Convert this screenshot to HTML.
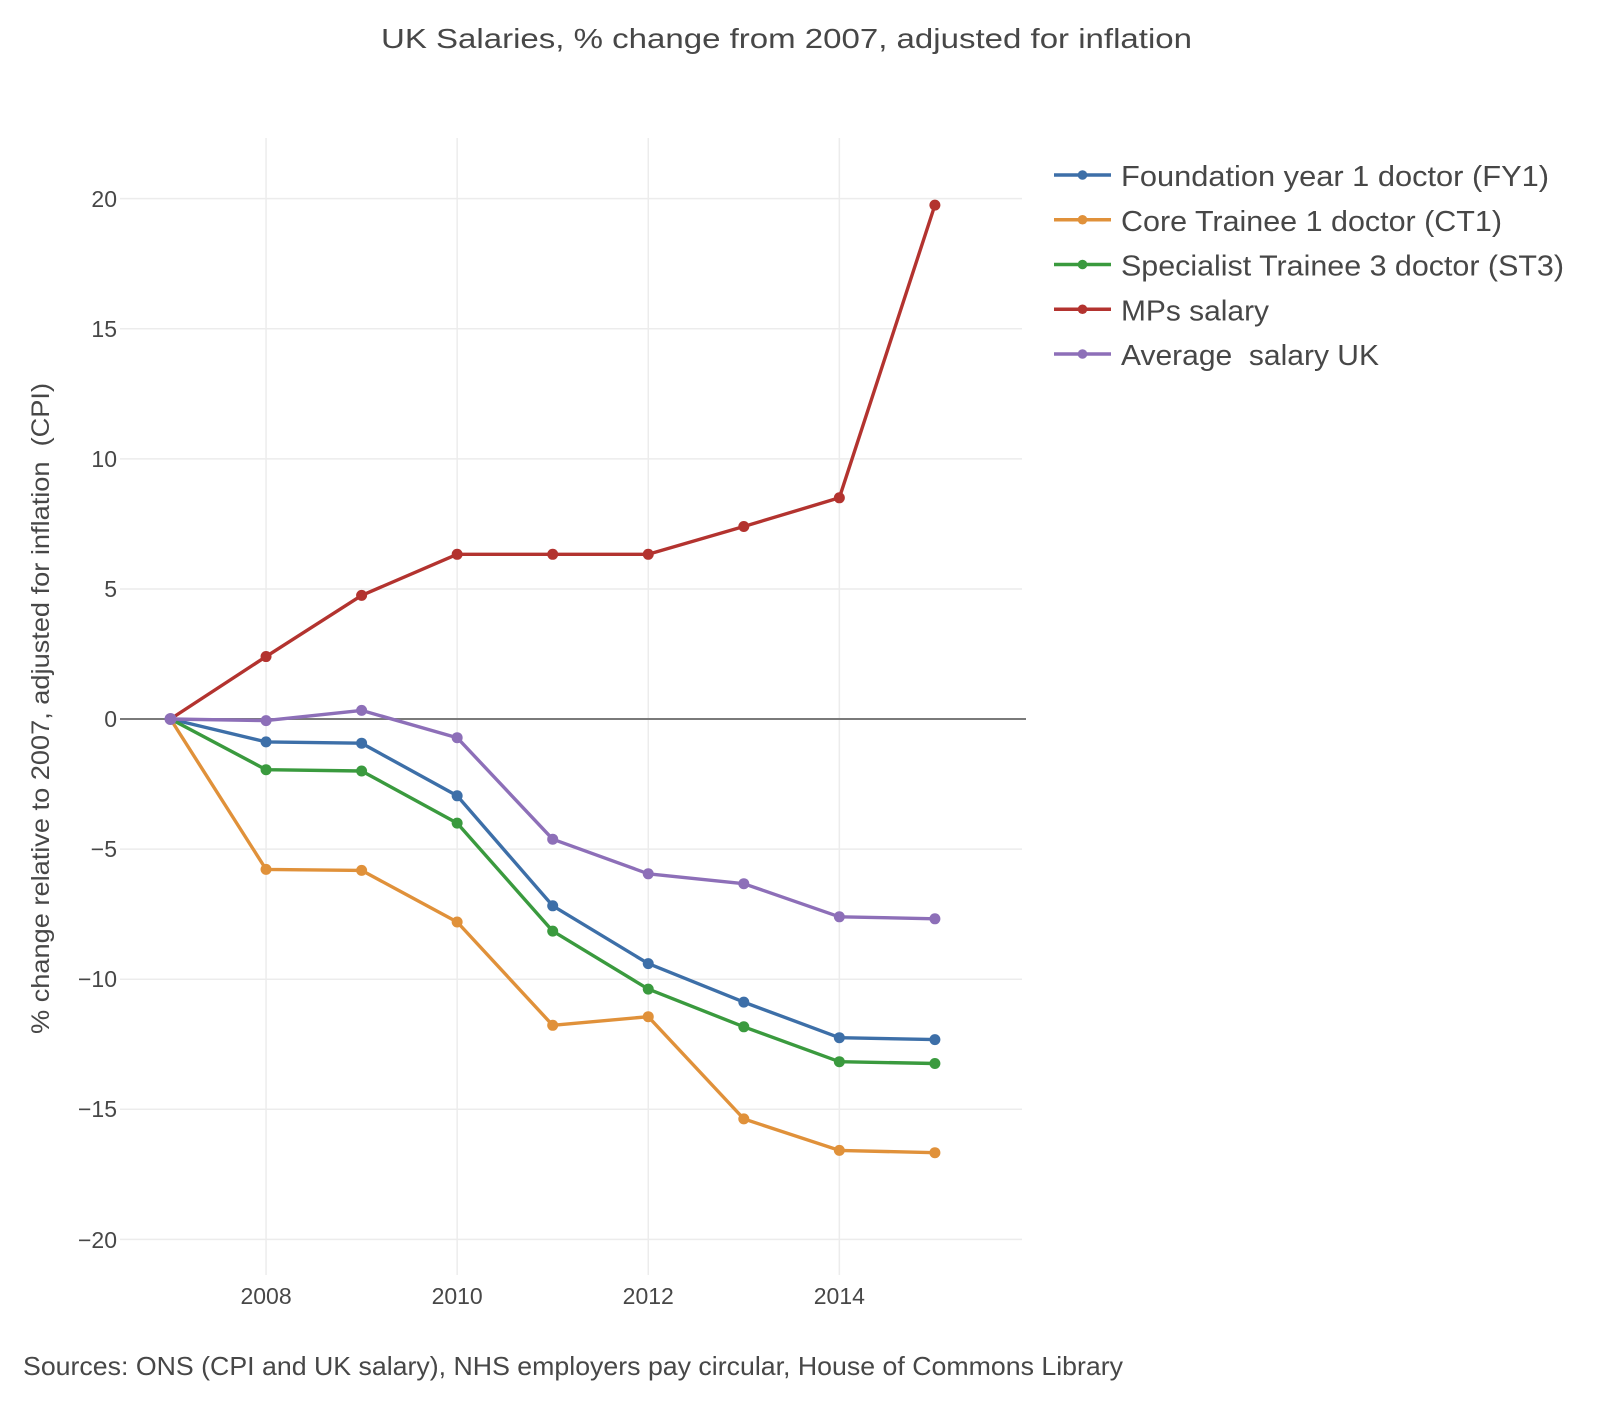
<!DOCTYPE html>
<html>
<head>
<meta charset="utf-8">
<style>
  html, body { margin: 0; padding: 0; background: #fff; }
  svg { display: block; }
  text { font-family: "Liberation Sans", "DejaVu Sans", sans-serif; fill: #474747; }
</style>
</head>
<body>
<svg width="1600" height="1404" viewBox="0 0 1600 1404" xmlns="http://www.w3.org/2000/svg">
  <rect x="0" y="0" width="1600" height="1404" fill="#ffffff"/>

  <!-- Title -->
  <text x="381" y="48" font-size="28" textLength="811" lengthAdjust="spacingAndGlyphs">UK Salaries, % change from 2007, adjusted for inflation</text>

  <!-- Vertical gridlines -->
  <g stroke="#ececec" stroke-width="1.5">
    <line x1="266.05" y1="138" x2="266.05" y2="1275"/>
    <line x1="457.15" y1="138" x2="457.15" y2="1275"/>
    <line x1="648.25" y1="138" x2="648.25" y2="1275"/>
    <line x1="839.35" y1="138" x2="839.35" y2="1275"/>
  </g>

  <!-- Horizontal gridlines -->
  <g stroke="#ececec" stroke-width="1.5">
    <line x1="120" y1="198.6" x2="1022" y2="198.6"/>
    <line x1="120" y1="328.7" x2="1022" y2="328.7"/>
    <line x1="120" y1="458.9" x2="1022" y2="458.9"/>
    <line x1="120" y1="589" x2="1022" y2="589"/>
    <line x1="120" y1="849.1" x2="1022" y2="849.1"/>
    <line x1="120" y1="979.2" x2="1022" y2="979.2"/>
    <line x1="120" y1="1109.3" x2="1022" y2="1109.3"/>
    <line x1="120" y1="1239.4" x2="1022" y2="1239.4"/>
  </g>
  <!-- Zero line -->
  <line x1="120" y1="719" x2="1026" y2="719" stroke="#7a7a7a" stroke-width="2"/>

  <!-- Y tick labels -->
  <g font-size="23" text-anchor="end">
    <text x="117" y="207">20</text>
    <text x="117" y="337">15</text>
    <text x="117" y="467">10</text>
    <text x="117" y="597">5</text>
    <text x="117" y="727">0</text>
    <text x="117" y="857">−5</text>
    <text x="117" y="987">−10</text>
    <text x="117" y="1117">−15</text>
    <text x="117" y="1248">−20</text>
  </g>

  <!-- X tick labels -->
  <g font-size="23" text-anchor="middle">
    <text x="266.05" y="1304">2008</text>
    <text x="457.15" y="1304">2010</text>
    <text x="648.25" y="1304">2012</text>
    <text x="839.35" y="1304">2014</text>
  </g>

  <!-- Y axis title -->
  <text transform="translate(49,1034) rotate(-90)" x="0" y="0" font-size="25" textLength="651" lengthAdjust="spacingAndGlyphs" xml:space="preserve">% change relative to 2007, adjusted for inflation  (CPI)</text>

  <!-- Series: FY1 (blue) -->
  <polyline fill="none" stroke-width="3.4" stroke-linejoin="round" stroke="#3d6fa8" points="170.5,719 266.05,741.9 361.6,743.2 457.15,795.8 552.7,905.8 648.25,963.6 743.8,1002.1 839.35,1037.7 934.9,1039.6"/>
  <g fill="#3d6fa8">
    <circle cx="170.5" cy="719" r="5.5"/><circle cx="266.05" cy="741.9" r="5.5"/><circle cx="361.6" cy="743.2" r="5.5"/><circle cx="457.15" cy="795.8" r="5.5"/><circle cx="552.7" cy="905.8" r="5.5"/><circle cx="648.25" cy="963.6" r="5.5"/><circle cx="743.8" cy="1002.1" r="5.5"/><circle cx="839.35" cy="1037.7" r="5.5"/><circle cx="934.9" cy="1039.6" r="5.5"/>
  </g>

  <!-- Series: CT1 (orange) -->
  <polyline fill="none" stroke-width="3.4" stroke-linejoin="round" stroke="#e0913a" points="170.5,719 266.05,869.4 361.6,870.4 457.15,922 552.7,1025.3 648.25,1016.7 743.8,1118.9 839.35,1150.4 934.9,1152.7"/>
  <g fill="#e0913a">
    <circle cx="170.5" cy="719" r="5.5"/><circle cx="266.05" cy="869.4" r="5.5"/><circle cx="361.6" cy="870.4" r="5.5"/><circle cx="457.15" cy="922" r="5.5"/><circle cx="552.7" cy="1025.3" r="5.5"/><circle cx="648.25" cy="1016.7" r="5.5"/><circle cx="743.8" cy="1118.9" r="5.5"/><circle cx="839.35" cy="1150.4" r="5.5"/><circle cx="934.9" cy="1152.7" r="5.5"/>
  </g>

  <!-- Series: ST3 (green) -->
  <polyline fill="none" stroke-width="3.4" stroke-linejoin="round" stroke="#3a9a3e" points="170.5,719 266.05,769.7 361.6,771 457.15,823.1 552.7,931.1 648.25,989.1 743.8,1026.8 839.35,1061.7 934.9,1063.5"/>
  <g fill="#3a9a3e">
    <circle cx="170.5" cy="719" r="5.5"/><circle cx="266.05" cy="769.7" r="5.5"/><circle cx="361.6" cy="771" r="5.5"/><circle cx="457.15" cy="823.1" r="5.5"/><circle cx="552.7" cy="931.1" r="5.5"/><circle cx="648.25" cy="989.1" r="5.5"/><circle cx="743.8" cy="1026.8" r="5.5"/><circle cx="839.35" cy="1061.7" r="5.5"/><circle cx="934.9" cy="1063.5" r="5.5"/>
  </g>

  <!-- Series: MPs (red) -->
  <polyline fill="none" stroke-width="3.4" stroke-linejoin="round" stroke="#b3332f" points="170.5,719 266.05,656.55 361.6,595.4 457.15,554.3 552.7,554.3 648.25,554.3 743.8,526.5 839.35,497.8 934.9,205.1"/>
  <g fill="#b3332f">
    <circle cx="170.5" cy="719" r="5.5"/><circle cx="266.05" cy="656.55" r="5.5"/><circle cx="361.6" cy="595.4" r="5.5"/><circle cx="457.15" cy="554.3" r="5.5"/><circle cx="552.7" cy="554.3" r="5.5"/><circle cx="648.25" cy="554.3" r="5.5"/><circle cx="743.8" cy="526.5" r="5.5"/><circle cx="839.35" cy="497.8" r="5.5"/><circle cx="934.9" cy="205.1" r="5.5"/>
  </g>

  <!-- Series: Average (purple) -->
  <polyline fill="none" stroke-width="3.4" stroke-linejoin="round" stroke="#8d6fb8" points="170.5,719 266.05,720.6 361.6,710.4 457.15,737.7 552.7,839.2 648.25,873.8 743.8,883.7 839.35,916.8 934.9,918.8"/>
  <g fill="#8d6fb8">
    <circle cx="170.5" cy="719" r="6"/><circle cx="266.05" cy="720.6" r="5.5"/><circle cx="361.6" cy="710.4" r="5.5"/><circle cx="457.15" cy="737.7" r="5.5"/><circle cx="552.7" cy="839.2" r="5.5"/><circle cx="648.25" cy="873.8" r="5.5"/><circle cx="743.8" cy="883.7" r="5.5"/><circle cx="839.35" cy="916.8" r="5.5"/><circle cx="934.9" cy="918.8" r="5.5"/>
  </g>

  <!-- Legend -->
  <g stroke-width="3.4">
    <line x1="1054" y1="175" x2="1111" y2="175" stroke="#3d6fa8"/>
    <line x1="1054" y1="219.75" x2="1111" y2="219.75" stroke="#e0913a"/>
    <line x1="1054" y1="264.5" x2="1111" y2="264.5" stroke="#3a9a3e"/>
    <line x1="1054" y1="309.25" x2="1111" y2="309.25" stroke="#b3332f"/>
    <line x1="1054" y1="354" x2="1111" y2="354" stroke="#8d6fb8"/>
  </g>
  <circle cx="1082.5" cy="175" r="4.8" fill="#3d6fa8"/>
  <circle cx="1082.5" cy="219.75" r="4.8" fill="#e0913a"/>
  <circle cx="1082.5" cy="264.5" r="4.8" fill="#3a9a3e"/>
  <circle cx="1082.5" cy="309.25" r="4.8" fill="#b3332f"/>
  <circle cx="1082.5" cy="354" r="4.8" fill="#8d6fb8"/>

  <g font-size="29">
    <text x="1121" y="186" textLength="428" lengthAdjust="spacingAndGlyphs">Foundation year 1 doctor (FY1)</text>
    <text x="1121" y="230.75" textLength="381" lengthAdjust="spacingAndGlyphs">Core Trainee 1 doctor (CT1)</text>
    <text x="1121" y="275.5" textLength="443" lengthAdjust="spacingAndGlyphs">Specialist Trainee 3 doctor (ST3)</text>
    <text x="1121" y="320.25" textLength="148" lengthAdjust="spacingAndGlyphs">MPs salary</text>
    <text x="1121" y="365" textLength="258" lengthAdjust="spacingAndGlyphs" xml:space="preserve">Average  salary UK</text>
  </g>

  <!-- Sources -->
  <text x="23" y="1375" font-size="26" textLength="1100" lengthAdjust="spacingAndGlyphs">Sources: ONS (CPI and UK salary), NHS employers pay circular, House of Commons Library</text>
</svg>
</body>
</html>
